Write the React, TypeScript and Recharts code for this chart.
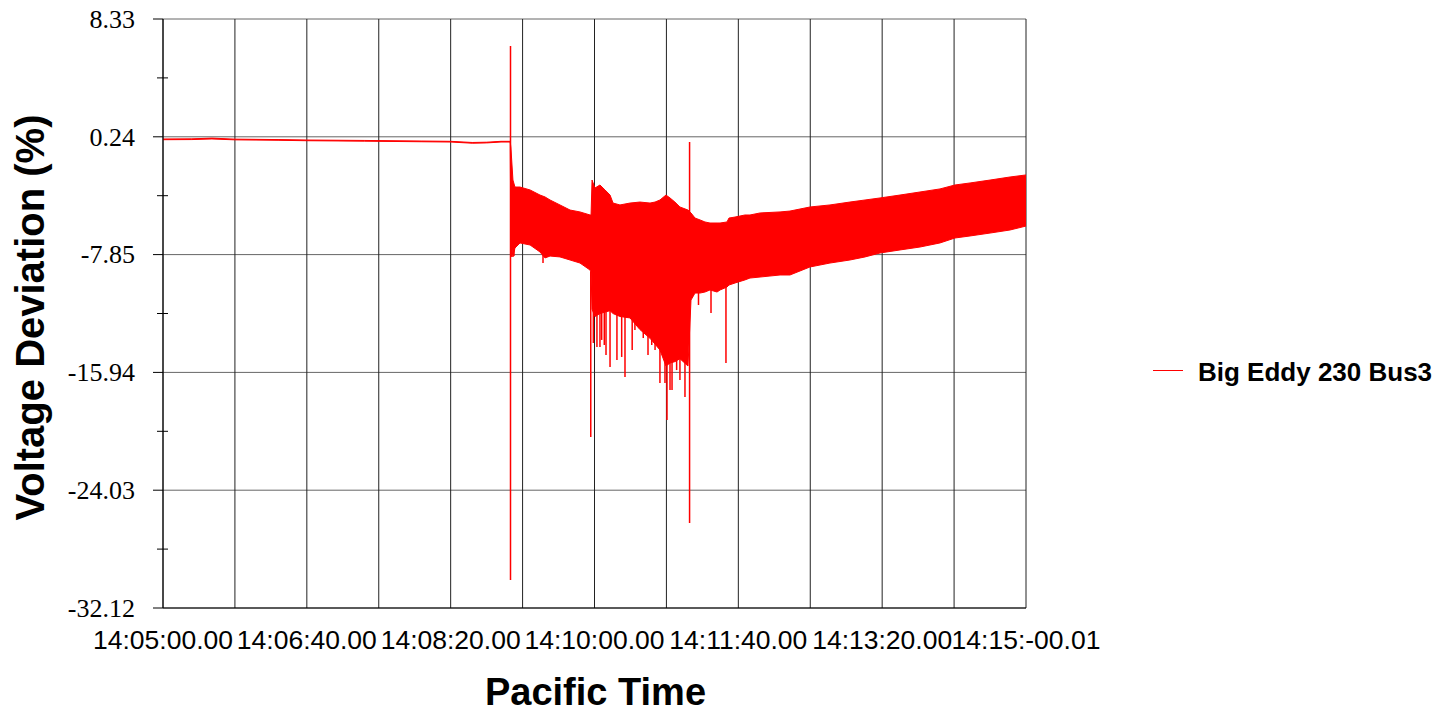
import React from 'react'
import { ComposedChart, Area, Line, XAxis, YAxis, CartesianGrid } from 'recharts'

// time in seconds after 14:05:00, voltage deviation in %
const bandTime = [
  0, 20, 34, 50, 80, 100, 140, 180, 200, 215, 225, 235, 241.4,
  241.9, 243.3, 244.7, 248.2, 255.2, 262.1, 265.6, 269.1, 276.0, 283.0, 289.9, 296.9, 297.6,
  298.3, 300.3, 303.8, 307.3, 310.8, 312.9, 317.7, 324.7, 331.6, 338.6, 342.1, 345.5, 349.7,
  352.5, 355.9, 359.4, 365.0, 367.1, 369.9, 373.4, 376.8, 380.3, 385.2, 387.3, 392.1, 393.5,
  397.7, 404.6, 408.1, 415.1, 429.0, 435.9, 449.8, 463.7, 477.6, 488.1, 498.5, 512.4, 526.3,
  540.2, 550.6, 561.1, 575.0, 588.9, 600,
]
const bandLow = [
  0.04, 0.05, 0.09, 0.03, 0.0, -0.03, -0.06, -0.1, -0.12, -0.2, -0.18, -0.12, -0.12,
  -6.85, -8.01, -7.4, -7.05, -7.19, -7.67, -8.08, -7.95, -8.01, -8.22, -8.43, -8.91, -9.05,
  -11.6, -12.1, -11.9, -11.8, -11.7, -11.9, -12.1, -12.2, -13.0, -13.6, -14.0, -14.4, -15.5,
  -15.3, -15.2, -15.0, -15.5, -10.97, -10.49, -10.49, -10.42, -10.28, -10.42, -10.28, -10.08, -9.94,
  -9.8, -9.59, -9.46, -9.39, -9.25, -9.25, -8.7, -8.43, -8.22, -8.01, -7.74, -7.53, -7.33,
  -7.05, -6.71, -6.57, -6.37, -6.16, -5.89,
]
const bandHigh = [
  0.09, 0.1, 0.15, 0.08, 0.05, 0.02, -0.01, -0.05, -0.07, -0.15, -0.13, -0.07, -0.07,
  -0.53, -2.73, -3.21, -3.21, -3.41, -3.76, -3.89, -4.1, -4.44, -4.79, -4.92, -5.13, -5.13,
  -2.73, -3.28, -3.07, -3.41, -3.76, -4.31, -4.44, -4.31, -4.24, -4.31, -4.24, -4.1, -3.76,
  -3.96, -4.24, -4.58, -4.79, -4.99, -5.34, -5.47, -5.61, -5.68, -5.68, -5.68, -5.61, -5.34,
  -5.27, -5.13, -5.13, -4.99, -4.92, -4.86, -4.58, -4.44, -4.24, -4.1, -3.96, -3.76, -3.55,
  -3.34, -3.07, -2.93, -2.73, -2.52, -2.38,
]

// single sharp excursions
const spikeTime = [
  241.6, 242.3, 244.0, 264.2, 297.4, 299.2, 301.7, 303.8, 305.0, 306.8, 308.0, 310.8,
  315.6, 318.9, 321.2, 326.2, 328.1, 333.9, 337.2, 339.8, 342.1, 345.5, 349.0, 350.4,
  352.5, 353.9, 357.1, 359.4, 362.9, 366.1, 372.3, 381.0, 391.4,
]
const spikeFrom = [
  6.48, -6.0, -6.0, -7.5, -9.0, -11.5, -11.5, -11.5, -11.5, -11.5, -11.5, -11.5,
  -11.5, -11.5, -11.5, -11.5, -11.5, -12.5, -13.0, -13.0, -13.0, -13.5, -14.0, -14.0,
  -14.0, -14.0, -14.0, -14.0, -14.0, -0.12, -10.0, -10.0, -10.0,
]
const spikeTo = [
  -30.2, -8.01, -7.95, -8.43, -20.38, -13.92, -14.2, -14.2, -13.71, -14.06, -14.75, -15.57,
  -15.09, -14.88, -16.26, -14.4, -13.03, -13.58, -14.75, -14.06, -14.4, -16.67, -16.67, -19.21,
  -17.15, -17.15, -15.78, -16.46, -17.63, -26.28, -11.31, -11.86, -15.29,
]

const xGridTicks = [0, 50, 100, 150, 200, 250, 300, 350, 400, 450, 500, 550, 600]
const xLabelTicks = [0, 100, 200, 300, 400, 500, 600]
const xTickLabels = [
  '14:05:00.00', '14:06:40.00', '14:08:20.00', '14:10:00.00',
  '14:11:40.00', '14:13:20.00', '14:15:-00.01',
]

const yMajorTicks = [8.33, 0.24, -7.85, -15.94, -24.03, -32.12]
const yMinorTicks = [4.285, -3.805, -11.895, -19.985, -28.075]

const seriesName = 'Big Eddy 230 Bus3'
const xTitle = 'Pacific Time'
const yTitle = 'Voltage Deviation (%)'
const RED = '#ff0000'

const bandData = bandTime.map((t, i) => ({ t, range: [bandLow[i], bandHigh[i]] }))
const spikeData = spikeTime.map((t, i) => [
  { t, v: spikeFrom[i] },
  { t, v: spikeTo[i] },
])

function YTick(props: any) {
  const { x, y, payload } = props
  const major = yMajorTicks.some((v) => Math.abs(v - payload.value) < 1e-6)
  if (!major) {
    return <line x1={x - 6} x2={x + 5} y1={y} y2={y} stroke="#000" />
  }
  return (
    <g>
      <line x1={x - 10} x2={x} y1={y} y2={y} stroke="#000" />
      <text
        x={x - 28}
        y={y}
        dy="0.34em"
        textAnchor="end"
        fontSize={26}
        fontFamily="'Liberation Serif', 'Times New Roman', serif"
        fill="#000"
      >
        {payload.value.toFixed(2)}
      </text>
    </g>
  )
}

function YTitle(props: any) {
  const vb = props.viewBox || { x: 0, y: 19, width: 163, height: 589 }
  const cx = vb.x + 44
  const cy = vb.y + vb.height / 2 + 4
  return (
    <text
      x={cx}
      y={cy}
      transform={`rotate(-90, ${cx}, ${cy})`}
      textAnchor="middle"
      fontSize={40}
      fontWeight="bold"
      fill="#000"
    >
      {yTitle}
    </text>
  )
}

export default function App() {
  return (
    <div
      style={{
        position: 'relative',
        margin: -8,
        width: 1443,
        height: 714,
        background: '#fff',
        fontFamily: "'Liberation Sans', Arial, sans-serif",
      }}
    >
      <ComposedChart
        width={1443}
        height={714}
        data={bandData}
        margin={{ top: 19, right: 417, bottom: 0, left: 0 }}
      >
        <CartesianGrid vertical={false} horizontalValues={yMajorTicks} stroke="#666" />
        <CartesianGrid horizontal={false} verticalValues={xGridTicks} stroke="#222" />
        <XAxis
          type="number"
          dataKey="t"
          domain={[0, 600]}
          allowDataOverflow
          ticks={xGridTicks}
          interval={0}
          tickFormatter={(v: number) => {
            const i = xLabelTicks.indexOf(v)
            return i >= 0 ? xTickLabels[i] : ''
          }}
          tickLine={false}
          tickSize={0}
          tickMargin={22}
          height={106}
          axisLine={{ stroke: '#000' }}
          tick={{ fontSize: 26.5, fill: '#000' }}
        />
        <YAxis
          type="number"
          domain={[-32.12, 8.33]}
          allowDataOverflow
          ticks={[...yMajorTicks, ...yMinorTicks].sort((a, b) => b - a)}
          interval={0}
          width={163}
          tickLine={false}
          tickSize={0}
          tickMargin={0}
          axisLine={{ stroke: '#000' }}
          tick={<YTick />}
          label={{ content: <YTitle /> }}
        />
        <Area
          dataKey="range"
          type="linear"
          stroke={RED}
          strokeWidth={1}
          fill={RED}
          fillOpacity={1}
          dot={false}
          activeDot={false}
          isAnimationActive={false}
        />
        {spikeData.map((d, i) => (
          <Line
            key={i}
            data={d}
            dataKey="v"
            type="linear"
            stroke={RED}
            strokeWidth={1.5}
            dot={false}
            activeDot={false}
            isAnimationActive={false}
          />
        ))}
      </ComposedChart>

      <div
        style={{
          position: 'absolute',
          left: 163,
          width: 865,
          top: 671,
          textAlign: 'center',
          fontSize: 38,
          lineHeight: '42px',
          fontWeight: 'bold',
          color: '#000',
        }}
      >
        {xTitle}
      </div>

      <div
        style={{
          position: 'absolute',
          left: 1153,
          top: 357,
          display: 'flex',
          alignItems: 'center',
          fontSize: 26,
          fontWeight: 'bold',
          color: '#000',
          whiteSpace: 'nowrap',
        }}
      >
        <span
          style={{
            display: 'inline-block',
            width: 30,
            height: 0,
            borderTop: `1px solid ${RED}`,
            marginRight: 15,
            position: 'relative',
            top: -2,
          }}
        />
        {seriesName}
      </div>
    </div>
  )
}
